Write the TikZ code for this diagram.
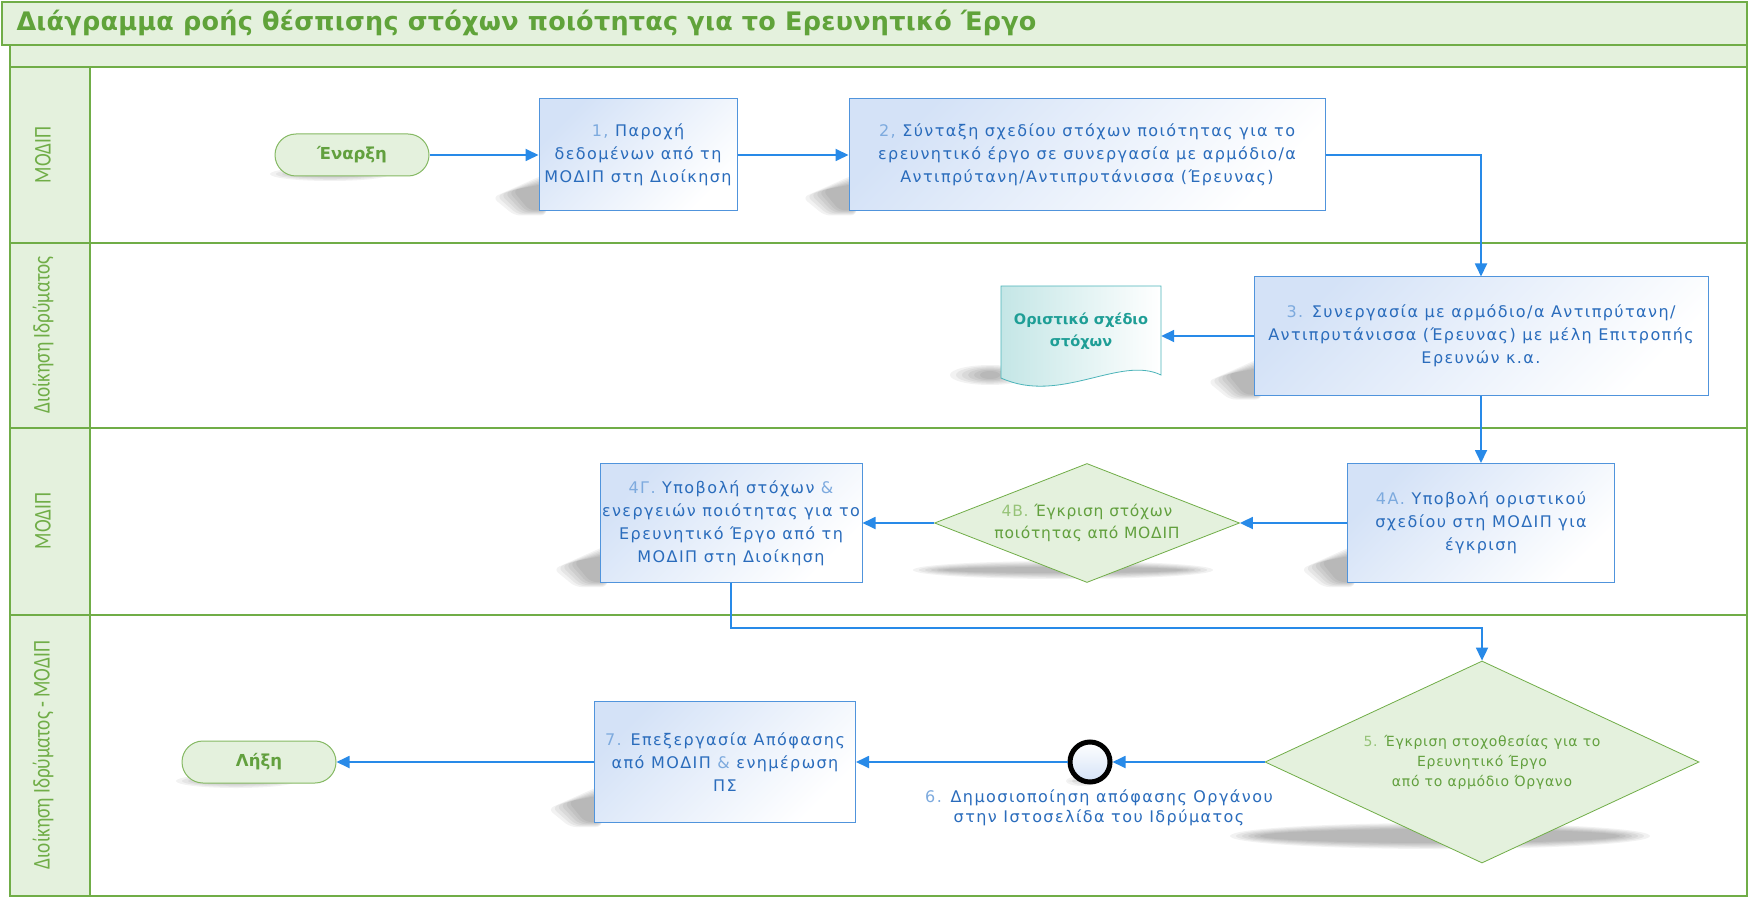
\documentclass[tikz,border=0pt]{standalone}
\usepackage{fontspec}
\setmainfont{DejaVu Sans}
\newfontfamily\boxfont{DejaVu Sans}[LetterSpace=9]
\newfontfamily\dfont{DejaVu Sans}[LetterSpace=5]
\newfontfamily\titlefont{DejaVu Sans}[LetterSpace=1]
\newfontfamily\lanefont{Carlito}[FakeStretch=0.8]
\usetikzlibrary{arrows.meta,shapes.geometric,calc}
\definecolor{lgreen}{RGB}{112,173,71}
\definecolor{bandfill}{RGB}{228,241,221}
\definecolor{titlegreen}{RGB}{96,163,58}
\definecolor{arrowblue}{RGB}{40,138,232}
\definecolor{boxborder}{RGB}{80,148,220}
\definecolor{boxblue}{RGB}{212,226,247}
\definecolor{boxtext}{RGB}{42,108,188}
\definecolor{numtext}{RGB}{125,170,222}
\definecolor{dtext}{RGB}{98,160,62}
\definecolor{dnum}{RGB}{150,195,120}
\definecolor{docteal}{RGB}{75,180,185}
\definecolor{docfill}{RGB}{196,230,230}
\definecolor{doctext}{RGB}{30,158,150}
\pgfdeclarelayer{lanes}
\pgfdeclarelayer{shadow}
\pgfsetlayers{lanes,shadow,main}
\newcommand\bnum[1]{{\color{numtext}#1}}
\newcommand\dnumb[1]{{\color{dnum}#1}}
\tikzset{
  flow/.style={draw=arrowblue, line width=1.8pt, -{Triangle[length=13pt,width=12pt]}},
  procbox/.style={draw=boxborder, line width=1pt, top color=boxblue, bottom color=white, shading angle=45, align=center, text=boxtext, font=\boxfont\fontsize{16}{23}\selectfont, inner sep=0pt},
  terminal/.style={draw=lgreen!85, line width=1pt, fill=bandfill, rounded corners=21pt, minimum width=154pt, minimum height=42pt, inner sep=0pt, font=\bfseries\fontsize{16.5}{19}\selectfont, text=dtext},
  decision/.style={diamond, draw=lgreen, line width=0.8pt, fill=bandfill, inner sep=0pt},
  dlabel/.style={align=center, text=dtext, font=\dfont\fontsize{14}{20}\selectfont},
  lanelabel/.style={rotate=90, text=lgreen, font=\lanefont\fontsize{24}{24}\selectfont},
  shadowfill/.style={fill=black, opacity=0.05},
  laneline/.style={draw=lgreen, line width=1.2pt},
}
\newcommand\boxshadow[1]{%
  \begin{pgfonlayer}{shadow}
  \foreach \k in {0,1,2,3,4,5}{
    \fill[shadowfill, rounded corners=6pt]
      ($(#1.south west)+(-46+\k*4,-14-\k*1.5)$) --
      ($(#1.south west)+(8,-38+\k*2)$) --
      ($(#1.south west)+(8,4-\k)$) --
      ($(#1.south west)+(-24+\k*3,4-\k)$) -- cycle;
  }
  \end{pgfonlayer}}
\newcommand\ovalshadow[3]{%
  \begin{pgfonlayer}{shadow}
  \foreach \k in {0,1,2,3,4,5}{
    \fill[shadowfill] #1 ellipse [x radius={#2-\k*6}, y radius={#3-\k*1.2}];
  }
  \end{pgfonlayer}}
\begin{document}
\begin{tikzpicture}[x=1pt,y=-1pt]
\useasboundingbox (0,0) rectangle (1750,901);
% ---------- swimlanes ----------
\begin{pgfonlayer}{lanes}
  \fill[white] (0,0) rectangle (1750,901);
  \fill[bandfill] (2,2) rectangle (1747,45);
  \fill[bandfill] (10,45) rectangle (1747,67);
  \fill[bandfill] (10,67) rectangle (90,896);
  \draw[laneline] (2,2) rectangle (1747,45);
  \draw[laneline] (10,45) rectangle (1747,896);
  \draw[laneline] (90,67) -- (90,896);
  \foreach \yy in {67,243,428,615} \draw[laneline] (10,\yy) -- (1747,\yy);
\end{pgfonlayer}
\node[anchor=west, text=titlegreen, font=\titlefont\bfseries\fontsize{25.5}{28}\selectfont] (title) at (13,23) {Διάγραμμα ροής θέσπισης στόχων ποιότητας για το Ερευνητικό Έργο};
\node[lanelabel] (lane1) at (43,155) {ΜΟΔΙΠ};
\node[lanelabel] (lane2) at (43,335) {Διοίκηση Ιδρύματος};
\node[lanelabel] (lane3) at (43,521) {ΜΟΔΙΠ};
\node[lanelabel] (lane4) at (43,755) {Διοίκηση Ιδρύματος - ΜΟΔΙΠ};
% ---------- nodes ----------
\node[terminal] (start) at (352,155) {Έναρξη};
\node[procbox, minimum width=198pt, minimum height=112pt] (b1) at (638,155) {\bnum{1,} Παροχή\\δεδομένων από τη\\ΜΟΔΙΠ στη Διοίκηση};
\node[procbox, minimum width=476pt, minimum height=112pt] (b2) at (1087,155) {\bnum{2,} Σύνταξη σχεδίου στόχων ποιότητας για το\\ερευνητικό έργο σε συνεργασία με αρμόδιο/α\\Αντιπρύτανη/Αντιπρυτάνισσα (Έρευνας)};
\node[procbox, minimum width=454pt, minimum height=118pt] (b3) at (1481,336) {\bnum{3.} Συνεργασία με αρμόδιο/α Αντιπρύτανη/\\Αντιπρυτάνισσα (Έρευνας) με μέλη Επιτροπής\\Ερευνών κ.α.};
% document
\path[draw=docteal, line width=0.8pt, left color=docfill, right color=white]
  (1001,286) -- (1161,286) -- (1161,375) .. controls (1120,355) and (1060,405) .. (1001,378) -- cycle;
\node[minimum width=160pt, minimum height=90pt, align=center, text=doctext, font=\bfseries\fontsize{14.5}{22}\selectfont] (doc) at (1081,331) {Οριστικό σχέδιο\\στόχων};
\node[procbox, minimum width=267pt, minimum height=119pt] (b4a) at (1481,523) {\bnum{4Α.} Υποβολή οριστικού\\σχεδίου στη ΜΟΔΙΠ για\\έγκριση};
\node[decision, minimum width=305pt, minimum height=119pt] (d4b) at (1087,523) {};
\node[dlabel, font=\dfont\fontsize{15.5}{22}\selectfont] (t4b) at (1087,523) {\dnumb{4Β.} Έγκριση στόχων\\ποιότητας από ΜΟΔΙΠ};
\node[procbox, minimum width=262pt, minimum height=119pt] (b4g) at (731,523) {\bnum{4Γ.} Υποβολή στόχων \bnum{\&}\\ενεργειών ποιότητας για το\\Ερευνητικό Έργο από τη\\ΜΟΔΙΠ στη Διοίκηση};
\node[decision, minimum width=434pt, minimum height=202pt] (d5) at (1482,762) {};
\node[dlabel] (t5) at (1482,762) {\dnumb{5.} Έγκριση στοχοθεσίας για το\\Ερευνητικό Έργο\\από το αρμόδιο Όργανο};
\node[circle, draw=black, line width=5pt, minimum size=40pt, inner sep=0pt, top color=white, bottom color=boxblue] (ev6) at (1090,762) {};
\node[align=center, text=boxtext, font=\boxfont\fontsize{16}{20}\selectfont] (t6) at (1099,808) {\bnum{6.} Δημοσιοποίηση απόφασης Οργάνου\\στην Ιστοσελίδα του Ιδρύματος};
\node[procbox, minimum width=261pt, minimum height=121pt] (b7) at (725,762) {\bnum{7.} Επεξεργασία Απόφασης\\από ΜΟΔΙΠ \bnum{\&} ενημέρωση\\ΠΣ};
\node[terminal] (end) at (259,762) {Λήξη};
% ---------- shadows ----------
\boxshadow{b1}
\boxshadow{b2}
\boxshadow{b3}
\boxshadow{b4a}
\boxshadow{b4g}
\boxshadow{b7}
\ovalshadow{(990,375)}{40pt}{10pt}
\ovalshadow{(1063,570)}{150pt}{9pt}
\ovalshadow{(1440,836)}{210pt}{13pt}
\ovalshadow{(330,174)}{60pt}{7pt}
\ovalshadow{(236,781)}{60pt}{7pt}
\ovalshadow{(1082,781)}{16pt}{5pt}
% ---------- connectors ----------
\draw[flow] (start) -- (b1);
\draw[flow] (b1) -- (b2);
\draw[flow] (b2.east) -| (b3.north);
\draw[flow] (b3.west) -- (b3.west -| doc.east);
\draw[flow] (b3.south) -- (b4a.north);
\draw[flow] (b4a.west) -- (d4b.east);
\draw[flow] (d4b.west) -- (b4g.east);
\draw[flow] (b4g.south) -- ++(0,45) -| (d5.north);
\draw[flow] (d5.west) -- (ev6.east);
\draw[flow] (ev6.west) -- (b7.east);
\draw[flow] (b7.west) -- (end.east);
\end{tikzpicture}
\end{document}
